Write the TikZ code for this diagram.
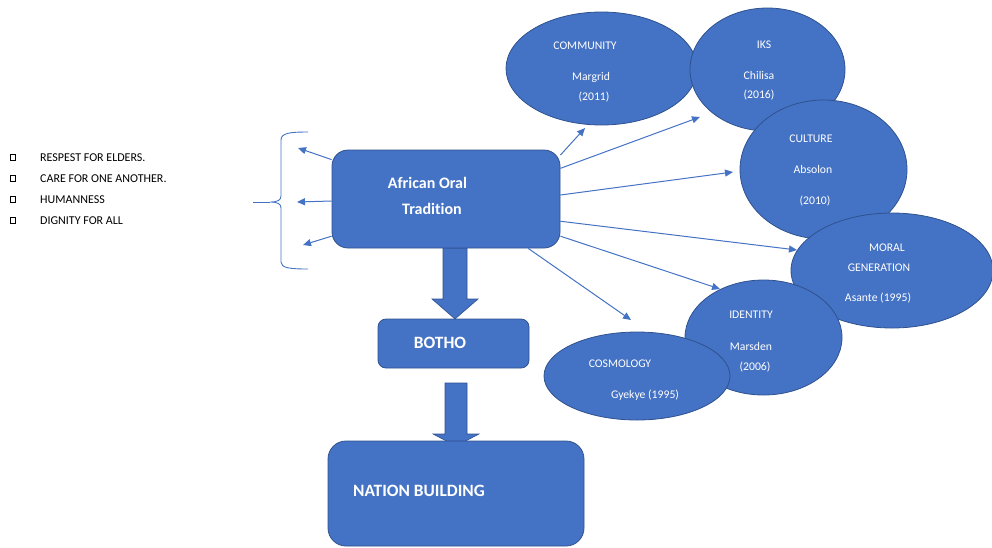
\documentclass[tikz,border=0pt]{standalone}
\usepackage{fontspec}
\setmainfont{Carlito}[Ligatures={NoCommon}]
\usetikzlibrary{arrows.meta,shapes.geometric}
\definecolor{bfill}{HTML}{4472C4}
\definecolor{bline}{HTML}{2F528F}
\begin{document}
\begin{tikzpicture}[x=1pt,y=-1pt,
  box/.style={draw=bline, line width=0.8pt, fill=bfill, rounded corners=#1, inner sep=0pt},
  oval/.style={ellipse, draw=bline, line width=0.8pt, fill=bfill, inner sep=0pt},
  otxt/.style={text=white, font=\fontsize{11.7}{13}\selectfont, inner sep=0pt},
  btxt/.style={text=white, font=\fontsize{17.3}{19}\bfseries, inner sep=0pt},
  ltxt/.style={text=black, font=\fontsize{12}{13}\selectfont, inner sep=0pt, anchor=west},
  conn/.style={draw=bfill, line width=1pt, -{Triangle[length=8pt,width=7pt]}},
  blk/.style={fill=bfill, draw=bline, line width=0.6pt},
  brace/.style={draw=bfill, line width=0.9pt},
  bul/.style={draw=black, line width=0.7pt}
]
\useasboundingbox (0,0) rectangle (992,547);

% left list
\foreach \yy/\tt/\nm in {157.5/RESPEST FOR ELDERS./l1, 178.5/CARE FOR ONE ANOTHER./l2, 199.5/HUMANNESS/l3, 220.5/DIGNITY FOR ALL/l4}{
  \draw[bul] (10.5,\yy-3) rectangle (15.5,\yy+3);
  \node[ltxt] (\nm) at (40,\yy) {\tt};
}

% brace
\draw[brace] (308,132) .. controls (290,132) and (281,133) .. (281,140) -- (281,196)
  .. controls (281,200) and (278,202) .. (270,202) .. controls (278,202) and (281,204) .. (281,208)
  -- (281,262) .. controls (281,268) and (290,269) .. (308,269);
\coordinate (bt) at (270,202);
\coordinate (bl) at (253,202);
\draw[brace] (bt) -- (bl);

% block arrows
\draw[blk] (443,248) -- (467,248) -- (467,299) -- (478,299) -- (455,319) -- (432,299) -- (443,299) -- cycle;
\draw[blk] (445,383) -- (467,383) -- (467,434) -- (479,434) -- (456,446) -- (433,434) -- (445,434) -- cycle;

% boxes
\node[box=16pt, minimum width=228pt, minimum height=98pt] (aot) at (446,199) {};
\node[btxt, font=\fontsize{16}{19}\bfseries] (aot1) at (427.5,183) {African Oral};
\node[btxt, font=\fontsize{16}{19}\bfseries] (aot2) at (432,209) {Tradition};
\node[box=8pt, minimum width=151pt, minimum height=49pt] (botho) at (453.5,343.5) {};
\node[btxt] (bothot) at (440,343) {BOTHO};
\node[box=18pt, minimum width=256pt, minimum height=105pt] (nb) at (456,493.5) {};
\node[btxt, anchor=west] (nbt) at (353,491) {NATION BUILDING};

% arrow targets
\coordinate (tL1) at (298,148);
\coordinate (tL2) at (297,202);
\coordinate (tL3) at (303,245);
\coordinate (tcom) at (585,128);
\coordinate (tiks) at (700,117);
\coordinate (tcul) at (733,172);
\coordinate (tmor) at (797,250);
\coordinate (tide) at (720,289);
\coordinate (tcos) at (631,320);

\draw[conn] (aot.161) -- (tL1);
\draw[conn] (aot.181.5) -- (tL2);
\draw[conn] (aot.198.4) -- (tL3);
\draw[conn] (aot.21) -- (tcom);
\draw[conn] (aot.15.2) -- (tiks);
\draw[conn] (aot.2) -- (tcul);
\draw[conn] (aot.-11.4) -- (tmor);
\draw[conn] (aot.-18.9) -- (tide);
\draw[conn] (aot.-31) -- (tcos);

% ellipses
\node[oval, minimum width=191pt, minimum height=113pt] (com) at (601.5,68.5) {};
\node[otxt] at (585,45.5) {COMMUNITY};
\node[otxt] at (591,77.5) {Margrid};
\node[otxt] at (594,97.5) {(2011)};

\node[oval, minimum width=155pt, minimum height=123pt] (iks) at (767.5,69.5) {};
\node[otxt] at (764,44.5) {IKS};
\node[otxt] at (759,75.5) {Chilisa};
\node[otxt] at (759,95.5) {(2016)};

\node[oval, minimum width=167pt, minimum height=139pt] (cul) at (823.5,169.5) {};
\node[otxt] at (811,138.5) {CULTURE};
\node[otxt] at (813,169.5) {Absolon};
\node[otxt] at (815,201.5) {(2010)};

\node[oval, minimum width=202pt, minimum height=115pt] (mor) at (892,270.5) {};
\node[otxt] at (887,247.5) {MORAL};
\node[otxt] at (879,267.5) {GENERATION};
\node[otxt] at (878,298.5) {Asante (1995)};

\node[oval, minimum width=157pt, minimum height=115pt] (ide) at (763.5,337.5) {};
\node[otxt] at (751,314.5) {IDENTITY};
\node[otxt] at (751,346.5) {Marsden};
\node[otxt] at (755,367.5) {(2006)};

\node[oval, minimum width=186pt, minimum height=88pt] (cos) at (637,376) {};
\node[otxt] at (620,363.5) {COSMOLOGY};
\node[otxt] at (645,395.5) {Gyekye (1995)};
\end{tikzpicture}
\end{document}
